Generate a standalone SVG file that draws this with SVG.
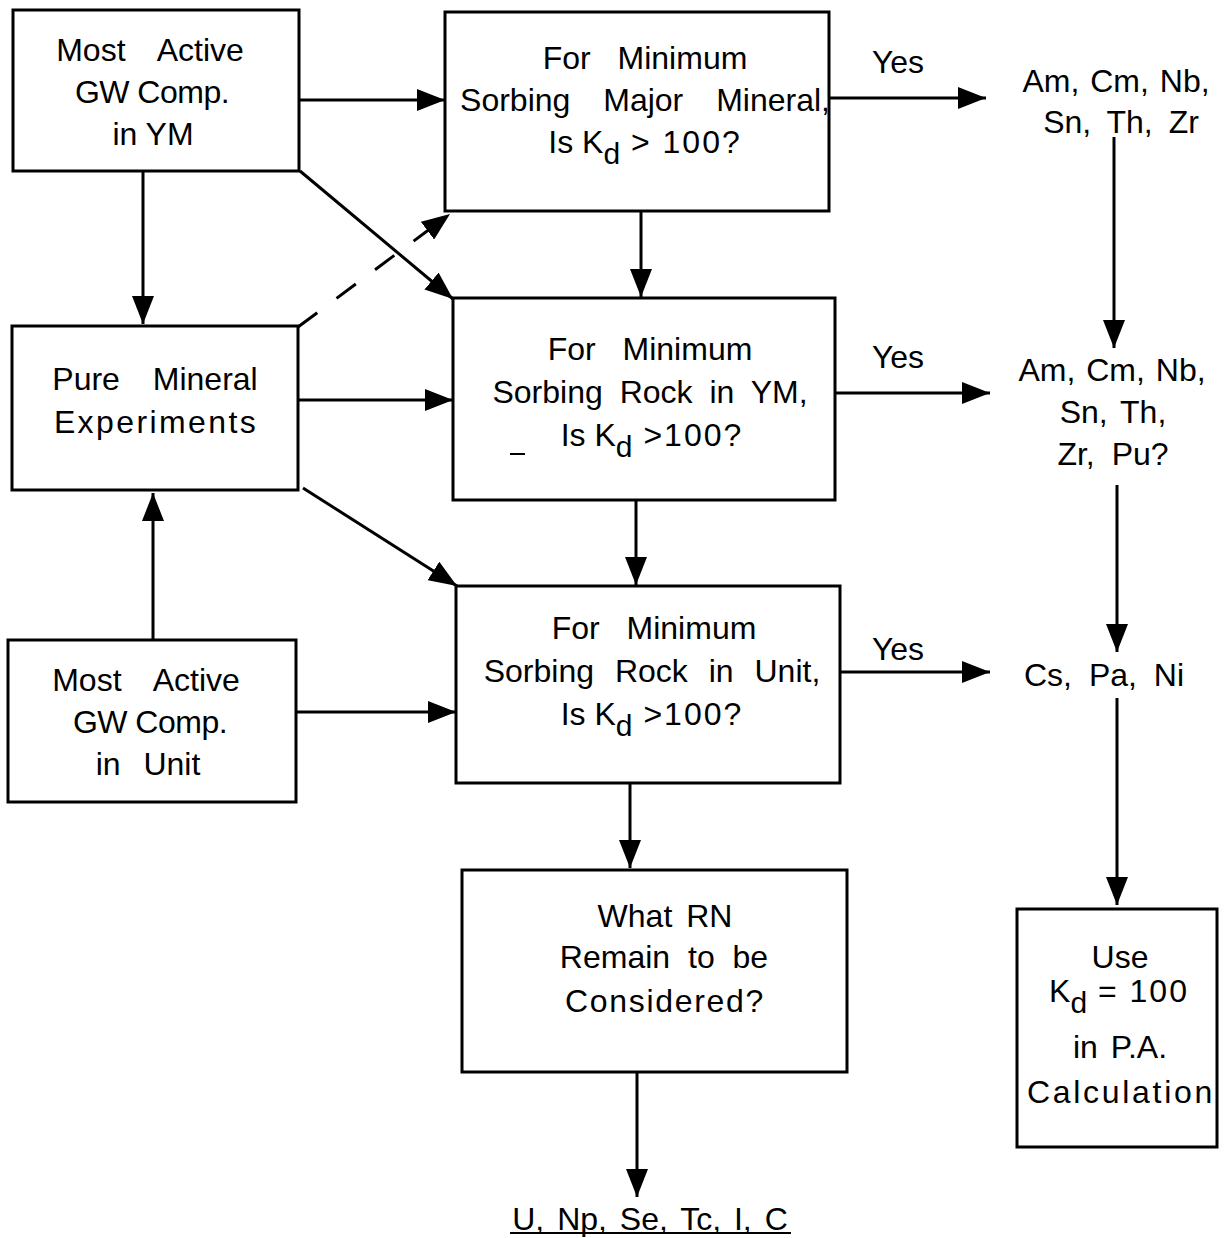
<svg xmlns="http://www.w3.org/2000/svg" width="1229" height="1238" viewBox="0 0 1229 1238">
<style>
.box{fill:#fff;stroke:#000;stroke-width:3}
.t{font-family:"Liberation Sans",Arial,Helvetica,sans-serif;font-size:32px;fill:#000;text-anchor:middle}
.c{fill:none;stroke:#000;stroke-width:3}
</style>
<defs>
<marker id="ah" markerUnits="userSpaceOnUse" markerWidth="28" markerHeight="22" refX="28" refY="11" orient="auto">
<path d="M0,0 L28,11 L0,22 z" fill="#000"/>
</marker>
</defs>
<rect width="1229" height="1238" fill="#fff"/>
<g id="connectors">
<line class="c" x1="300" y1="100" x2="445" y2="100" marker-end="url(#ah)"/>
<line class="c" x1="143" y1="172" x2="143" y2="324" marker-end="url(#ah)"/>
<line class="c" x1="300" y1="171" x2="453" y2="299" marker-end="url(#ah)"/>
<line class="c" x1="298" y1="327" x2="450" y2="214" stroke-dasharray="24 24" marker-end="url(#ah)"/>
<line class="c" x1="641" y1="211" x2="641" y2="297" marker-end="url(#ah)"/>
<line class="c" x1="298" y1="400" x2="453" y2="400" marker-end="url(#ah)"/>
<line class="c" x1="303" y1="488" x2="457" y2="586" marker-end="url(#ah)"/>
<line class="c" x1="636" y1="500" x2="636" y2="585" marker-end="url(#ah)"/>
<line class="c" x1="153" y1="640" x2="153" y2="493" marker-end="url(#ah)"/>
<line class="c" x1="296" y1="712" x2="456" y2="712" marker-end="url(#ah)"/>
<line class="c" x1="630" y1="783" x2="630" y2="868" marker-end="url(#ah)"/>
<line class="c" x1="637" y1="1073" x2="637" y2="1197" marker-end="url(#ah)"/>
<line class="c" x1="829" y1="98" x2="986" y2="98" marker-end="url(#ah)"/>
<line class="c" x1="835" y1="393" x2="990" y2="393" marker-end="url(#ah)"/>
<line class="c" x1="840" y1="672" x2="990" y2="672" marker-end="url(#ah)"/>
<line class="c" x1="1114" y1="137" x2="1114" y2="348" marker-end="url(#ah)"/>
<line class="c" x1="1117" y1="485" x2="1117" y2="652" marker-end="url(#ah)"/>
<line class="c" x1="1117" y1="698" x2="1117" y2="905" marker-end="url(#ah)"/>
<text class="t" x="898" y="73">Yes</text>
<text class="t" x="898" y="368">Yes</text>
<text class="t" x="898" y="660">Yes</text>
</g>
<g id="gw-ym">
<rect class="box" x="13" y="10" width="286" height="161"/>
<text class="t" x="150" y="61" word-spacing="24">Most Active</text>
<text class="t" x="152" y="103" letter-spacing="-0.5">GW Comp.</text>
<text class="t" x="153" y="145">in YM</text>
</g>
<g id="major-mineral">
<rect class="box" x="445" y="12" width="384" height="199"/>
<text class="t" x="645" y="69" word-spacing="18">For Minimum</text>
<text class="t" x="645" y="111" word-spacing="24">Sorbing Major Mineral,</text>
<text class="t" x="645" y="153">Is K<tspan font-size="30" dy="11">d</tspan><tspan dy="-11" letter-spacing="2"> &gt; 100?</tspan></text>
</g>
<g id="pure-mineral">
<rect class="box" x="12" y="326" width="286" height="164"/>
<text class="t" x="155" y="390" word-spacing="24">Pure Mineral</text>
<text class="t" x="156" y="433" letter-spacing="2.4">Experiments</text>
</g>
<g id="rock-ym">
<rect class="box" x="453" y="298" width="382" height="202"/>
<text class="t" x="650" y="360" word-spacing="18">For Minimum</text>
<text class="t" x="650" y="403" word-spacing="8">Sorbing Rock in YM,</text>
<text class="t" x="652" y="446">Is K<tspan font-size="30" dy="11">d</tspan><tspan dy="-11" letter-spacing="2"> &gt;100?</tspan></text>
<line x1="510" y1="454" x2="525" y2="454" stroke="#000" stroke-width="2"/>
</g>
<g id="gw-unit">
<rect class="box" x="8" y="640" width="288" height="162"/>
<text class="t" x="146" y="691" word-spacing="24">Most Active</text>
<text class="t" x="150" y="733" letter-spacing="-0.5">GW Comp.</text>
<text class="t" x="148" y="775" word-spacing="14">in Unit</text>
</g>
<g id="rock-unit">
<rect class="box" x="456" y="586" width="384" height="197"/>
<text class="t" x="654" y="639" word-spacing="18">For Minimum</text>
<text class="t" x="652" y="682" word-spacing="12">Sorbing Rock in Unit,</text>
<text class="t" x="652" y="725">Is K<tspan font-size="30" dy="11">d</tspan><tspan dy="-11" letter-spacing="2"> &gt;100?</tspan></text>
</g>
<g id="remain">
<rect class="box" x="462" y="870" width="385" height="202"/>
<text class="t" x="665" y="927" word-spacing="5">What RN</text>
<text class="t" x="664" y="968" word-spacing="9">Remain to be</text>
<text class="t" x="665" y="1012" letter-spacing="1.7">Considered?</text>
</g>
<g id="remaining-list">
<text class="t" x="650" y="1230" word-spacing="4">U, Np, Se, Tc, I, C</text>
<line x1="510" y1="1233" x2="791" y2="1233" stroke="#000" stroke-width="2"/>
</g>
<g id="list-1">
<text class="t" x="1116" y="92" word-spacing="2">Am, Cm, Nb,</text>
<text class="t" x="1121" y="133" word-spacing="7">Sn, Th, Zr</text>
</g>
<g id="list-2">
<text class="t" x="1112" y="381" word-spacing="2">Am, Cm, Nb,</text>
<text class="t" x="1113" y="423" word-spacing="4">Sn, Th,</text>
<text class="t" x="1113" y="465" word-spacing="8">Zr, Pu?</text>
</g>
<g id="list-3">
<text class="t" x="1104" y="686" word-spacing="8">Cs, Pa, Ni</text>
</g>
<g id="use-kd">
<rect class="box" x="1017" y="909" width="200" height="238"/>
<text class="t" x="1120" y="968">Use</text>
<text class="t" x="1119" y="1002">K<tspan font-size="30" dy="11">d</tspan><tspan dy="-11" letter-spacing="2"> = 100</tspan></text>
<text class="t" x="1120" y="1058" word-spacing="4">in P.A.</text>
<text class="t" x="1121" y="1103" letter-spacing="2.7">Calculation</text>
</g>
</svg>
